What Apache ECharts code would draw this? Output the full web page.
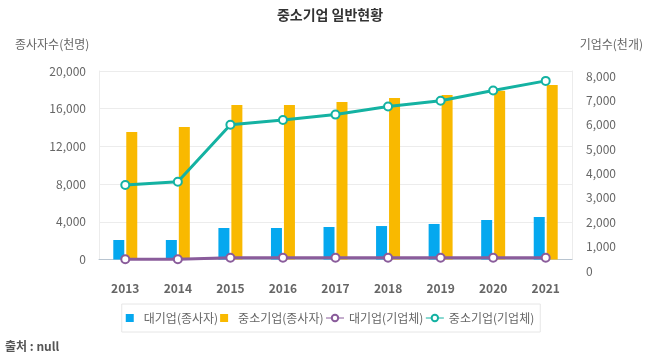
<!DOCTYPE html>
<html>
<head>
<meta charset="utf-8">
<script src="https://cdn.jsdelivr.net/npm/echarts@6/dist/echarts.min.js"></script>
<style>
html,body{margin:0;padding:0;background:#fff;}
#chart{width:660px;height:360px;}
</style>
</head>
<body>
<div id="chart"></div>
<script>
var years = ['2013','2014','2015','2016','2017','2018','2019','2020','2021'];
var largeEmp = [2070, 2070, 3340, 3340, 3450, 3550, 3770, 4190, 4510];
var smeEmp = [13530, 14060, 16390, 16390, 16710, 17140, 17450, 17910, 18520];
var largeCnt = [10, 10, 75, 75, 75, 75, 75, 75, 75];
var smeCnt = [3160, 3300, 5720, 5920, 6150, 6490, 6740, 7170, 7580];
var seriesNames = ['대기업(종사자)', '중소기업(종사자)', '대기업(기업체)', '중소기업(기업체)'];
var colors = ['#05a8ef', '#f9b900', '#8a5c9b', '#14b2a2'];

var FONT = '"Noto Sans CJK KR", "Noto Sans", sans-serif';
var chart = echarts.init(document.getElementById('chart'), null, {renderer: 'canvas'});
function fmt(v){ return v.toString().replace(/\B(?=(\d{3})+(?!\d))/g, ','); }

var option = {
  backgroundColor: '#fff',
  textStyle: {fontFamily: FONT},
  animation: false,
  title: [
    {text: '중소기업 일반현황', left: 'center', top: 3,
     textStyle: {fontFamily: FONT, fontSize: 14, fontWeight: 'bold', color: '#333'}},
    {text: '종사자수(천명)', left: 10, top: 33,
     textStyle: {fontFamily: FONT, fontSize: 12, fontWeight: 'normal', color: '#666'}},
    {text: '기업수(천개)', right: 12, top: 33,
     textStyle: {fontFamily: FONT, fontSize: 12, fontWeight: 'normal', color: '#666'}},
    {text: '출처 : null', left: 0, top: 335,
     textStyle: {fontFamily: FONT, fontSize: 12, fontWeight: 'bold', color: '#555'}}
  ],
  legend: {
    left: 'center', top: 304,
    padding: [8, 6, 8, 4],
    borderColor: '#e6e6e6', borderWidth: 1,
    itemWidth: 18, itemHeight: 8, itemGap: 2,
    textStyle: {fontFamily: FONT, fontSize: 12, color: '#666'},
    data: [
      {name: seriesNames[0], icon: 'path://M0,0h10v10h-10z'},
      {name: seriesNames[1], icon: 'path://M0,0h10v10h-10z'},
      {name: seriesNames[2], lineStyle: {width: 1}, itemStyle: {borderWidth: 1}},
      {name: seriesNames[3], lineStyle: {width: 1}, itemStyle: {borderWidth: 1}}
    ]
  },
  grid: [
    {left: 99, right: 88, top: 71, bottom: 100.5, containLabel: false},
    {left: 99, right: 88, top: 76, bottom: 89, containLabel: false}
  ],
  xAxis: [
    {type: 'category', gridIndex: 0, data: years,
     axisLine: {lineStyle: {color: '#b8c4d0', width: 1}},
     axisTick: {show: false},
     axisLabel: {margin: 23, fontFamily: FONT, fontSize: 12, fontWeight: 'bold', color: '#666'}},
    {type: 'category', gridIndex: 1, data: years, show: false}
  ],
  yAxis: [
    {type: 'value', gridIndex: 0, min: 0, max: 20000, interval: 4000,
     axisLine: {show: true, lineStyle: {color: '#ececec'}},
     axisTick: {show: false},
     splitLine: {lineStyle: {color: '#ececec'}},
     axisLabel: {margin: 13, fontFamily: FONT, fontSize: 12, color: '#666', formatter: fmt}},
    {type: 'value', gridIndex: 0, position: 'right', min: 0, max: 8000, interval: 1000,
     axisLine: {show: true, lineStyle: {color: '#ececec'}},
     axisTick: {show: false}, splitLine: {show: false}, axisLabel: {show: false}},
    {type: 'value', gridIndex: 1, position: 'right', min: 0, max: 8000, interval: 1000,
     axisLine: {show: false}, axisTick: {show: false}, splitLine: {show: false},
     axisLabel: {margin: 14, fontFamily: FONT, fontSize: 12, color: '#666', formatter: fmt}}
  ],
  series: [
    {name: seriesNames[0], type: 'bar', xAxisIndex: 0, yAxisIndex: 0, data: largeEmp,
     barWidth: 11, barGap: '18%', itemStyle: {color: colors[0]}},
    {name: seriesNames[1], type: 'bar', xAxisIndex: 0, yAxisIndex: 0, data: smeEmp,
     barWidth: 11, barGap: '18%', itemStyle: {color: colors[1]}},
    {name: seriesNames[2], type: 'line', xAxisIndex: 0, yAxisIndex: 1, data: largeCnt,
     symbol: 'emptyCircle', symbolSize: 8, z: 5,
     lineStyle: {width: 3, color: colors[2]},
     itemStyle: {color: colors[2], borderWidth: 2.5}},
    {name: seriesNames[3], type: 'line', xAxisIndex: 0, yAxisIndex: 1, data: smeCnt,
     symbol: 'emptyCircle', symbolSize: 8, z: 5,
     lineStyle: {width: 3, color: colors[3]},
     itemStyle: {color: colors[3], borderWidth: 2.5}}
  ]
};
chart.setOption(option);
</script>
</body>
</html>
